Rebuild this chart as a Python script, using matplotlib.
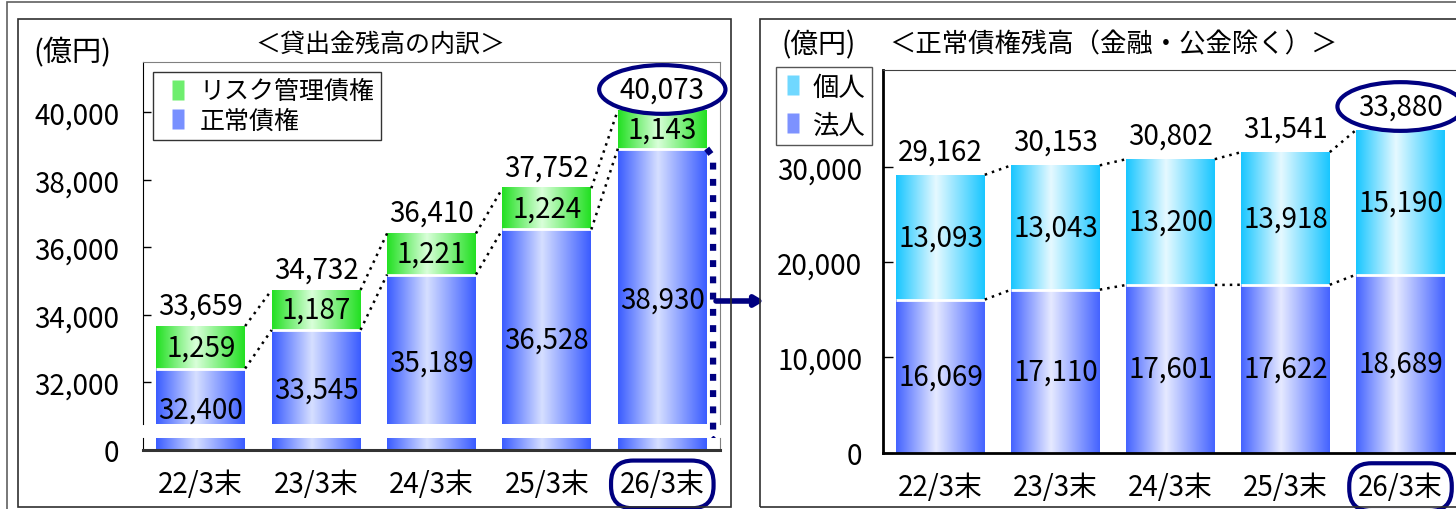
import numpy as np
import matplotlib
matplotlib.use('Agg')
import matplotlib.pyplot as plt
from matplotlib.colors import LinearSegmentedColormap
from matplotlib.lines import Line2D
from matplotlib.patches import Rectangle
from matplotlib.path import Path

plt.rcParams['font.family'] = ['Noto Sans CJK JP', 'DejaVu Sans']

categories = ['22/3末', '23/3末', '24/3末', '25/3末', '26/3末']

# left panel: 貸出金残高の内訳
normal_loans = [32400, 33545, 35189, 36528, 38930]   # 正常債権
risk_loans = [1259, 1187, 1221, 1224, 1143]          # リスク管理債権
loan_totals = [33659, 34732, 36410, 37752, 40073]
left_yticks = [32000, 34000, 36000, 38000, 40000]

# right panel: 正常債権残高(金融・公金除く)
corporate = [16069, 17110, 17601, 17622, 18689]      # 法人
individual = [13093, 13043, 13200, 13918, 15190]     # 個人
normal_totals = [29162, 30153, 30802, 31541, 33880]
right_yticks = [0, 10000, 20000, 30000]

W, H = 1456, 510
navy = '#000080'
FS = 20     # numbers / categories
JFS = 18    # japanese text


def fr(x0, y0, x1, y1):
    # pixel box -> figure fraction rect
    return [x0 / W, 1 - y1 / H, (x1 - x0) / W, (y1 - y0) / H]


def cmap(edge, center):
    return LinearSegmentedColormap.from_list('g', [(0, edge), (0.45, center), (1, edge)])


blue = cmap('#3a5cff', '#d6dfff')
green = cmap('#22e022', '#d9ffd9')
cyan = cmap('#18c6ff', '#e6f9ff')
blue2 = cmap('#4463ff', '#e6eaff')

grad = np.linspace(0, 1, 256)[None, :]
bw = 0.77
bar_marker = Path([(-0.3, -0.5), (0.3, -0.5), (0.3, 0.5), (-0.3, 0.5), (-0.3, -0.5)])


def grad_bar(ax, x, y0, y1, cm):
    ax.imshow(grad, cmap=cm, extent=(x - bw / 2, x + bw / 2, y0, y1),
              aspect='auto', interpolation='bilinear', zorder=2)


def handle(color, label):
    return Line2D([], [], ls='none', marker=bar_marker, ms=14, mfc=color, mec='none', label=label)


fig = plt.figure(figsize=(W / 100, H / 100), dpi=100)

# frames
for (x0, y0, x1, y1, c) in [(7, 2.5, 1475, 525, '#606060'), (18, 20, 731, 508, '#303030'),
                            (760, 20, 1470, 508, '#303030')]:
    fig.add_artist(Rectangle((x0 / W, 1 - y1 / H), (x1 - x0) / W, (y1 - y0) / H,
                             transform=fig.transFigure, fill=False, ec=c, lw=1.2))

# ---------------- left panel (broken axis) ----------------
ax_t = fig.add_axes(fr(143, 63, 720, 425))
ax_b = fig.add_axes(fr(143, 439, 720, 451))
top_lim = (30753, 41499)
upp = (top_lim[1] - top_lim[0]) / (425 - 63)
bot_lim = (0, 12 * upp)
zero_eq = top_lim[0] - 14 * upp - bot_lim[1]

x = np.arange(len(categories))
for i in range(len(x)):
    for ax in (ax_t, ax_b):
        grad_bar(ax, x[i], 0, normal_loans[i], blue)
    grad_bar(ax_t, x[i], normal_loans[i], normal_loans[i] + risk_loans[i], green)
ax_t.hlines(normal_loans, x - bw / 2, x + bw / 2, color='white', lw=2, zorder=3)

for i in range(len(x) - 1):
    for ys in (loan_totals, normal_loans):
        ax_t.plot([x[i] + bw / 2, x[i + 1] - bw / 2], [ys[i], ys[i + 1]], color='black',
                  ls=(0, (1, 2)), lw=1.8, zorder=3)

for i in range(len(x)):
    ax_t.annotate(f'{risk_loans[i]:,}', (x[i], normal_loans[i] + risk_loans[i] / 2),
                  ha='center', va='center', fontsize=FS, zorder=5)
    ax_t.annotate(f'{normal_loans[i]:,}', (x[i], (normal_loans[i] + zero_eq) / 2),
                  ha='center', va='center', fontsize=FS, zorder=5)
    t = ax_t.annotate(f'{loan_totals[i]:,}', (x[i], loan_totals[i]), xytext=(0, 4),
                      textcoords='offset points', ha='center', va='bottom', fontsize=FS,
                      zorder=5, annotation_clip=False)
    if i == len(x) - 1:
        t.set_bbox(dict(boxstyle='ellipse,pad=0.08', fc='white', ec=navy, lw=3))

# navy dotted line at the right of the last bar
xe = x[-1] + bw / 2
ax_t.plot([xe, xe + 0.055, xe + 0.055], [normal_loans[-1], normal_loans[-1] - 250, zero_eq + 200],
          color=navy, lw=4.5, ls=(0, (1.1, 1.5)), clip_on=False, zorder=4)
ax_t.plot([xe + 0.055], [zero_eq + 200], marker='D', ms=7, color=navy, clip_on=False, zorder=4)

ax_t.set_xlim(-0.5, 4.5)
ax_t.set_ylim(*top_lim)
ax_b.set_xlim(-0.5, 4.5)
ax_b.set_ylim(*bot_lim)
ax_t.set_yticks(left_yticks)
ax_t.set_yticklabels([f'{v:,}' for v in left_yticks])
ax_t.set_xticks([])
ax_b.set_yticks([0])
ax_b.set_xticks(x)
ax_b.set_xticklabels(categories)
ax_t.tick_params(axis='y', direction='in', length=6, width=1, pad=17, labelsize=FS)
ax_b.tick_params(axis='y', direction='in', length=0, pad=17, labelsize=FS)
ax_b.tick_params(axis='x', length=0, pad=14, labelsize=FS)
ax_t.spines['bottom'].set_visible(False)
ax_b.spines['top'].set_visible(False)
for ax in (ax_t, ax_b):
    ax.spines['left'].set_color('black')
    ax.spines['right'].set_color('#808080')
ax_t.spines['top'].set_color('#808080')
ax_b.spines['bottom'].set_color('#333333')
ax_b.spines['bottom'].set_linewidth(2.2)
ax_b.get_xticklabels()[-1].set_bbox(dict(boxstyle='round,pad=0.32,rounding_size=0.8',
                                         fc='white', ec=navy, lw=3))

ax_t.legend(handles=[handle('#6eee6e', 'リスク管理債権'), handle('#7890ff', '正常債権')],
            loc='upper left', bbox_to_anchor=(153 / W, 1 - 73 / H), bbox_transform=fig.transFigure,
            fancybox=False, edgecolor='#333333', framealpha=1, fontsize=JFS, handlelength=1.5,
            handletextpad=0.1, borderpad=0.25, labelspacing=0.15, borderaxespad=0)

fig.text(33 / W, 1 - 53 / H, '(億円)', fontsize=21, va='center', ha='left')
fig.text(380 / W, 1 - 45 / H, '＜貸出金残高の内訳＞', fontsize=JFS, va='center', ha='center')

# arrow between panels
ax_t.annotate('', xy=(764 / W, 1 - 302 / H), xytext=(716 / W, 1 - 302 / H),
              xycoords='figure fraction', textcoords='figure fraction',
              arrowprops=dict(arrowstyle='-|>,head_length=0.5,head_width=0.3', lw=4, color=navy,
                              shrinkA=0, shrinkB=0))

# ---------------- right panel ----------------
ax_r = fig.add_axes(fr(883, 70.7, 1458, 453.7))
for i in range(len(x)):
    grad_bar(ax_r, x[i], 0, corporate[i], blue2)
    grad_bar(ax_r, x[i], corporate[i], corporate[i] + individual[i], cyan)
ax_r.hlines(corporate, x - bw / 2, x + bw / 2, color='white', lw=2, zorder=3)
stack_top = [c + p for c, p in zip(corporate, individual)]
for i in range(len(x) - 1):
    for ys in (stack_top, corporate):
        ax_r.plot([x[i] + bw / 2, x[i + 1] - bw / 2], [ys[i], ys[i + 1]], color='black',
                  ls=(0, (1, 2)), lw=1.8, zorder=3)
for i in range(len(x)):
    ax_r.annotate(f'{individual[i]:,}', (x[i], corporate[i] + individual[i] / 2),
                  ha='center', va='center', fontsize=FS, zorder=5)
    ax_r.annotate(f'{corporate[i]:,}', (x[i], corporate[i] / 2),
                  ha='center', va='center', fontsize=FS, zorder=5)
    t = ax_r.annotate(f'{normal_totals[i]:,}', (x[i], stack_top[i]), xytext=(0, 6),
                      textcoords='offset points', ha='center', va='bottom', fontsize=FS,
                      zorder=5, annotation_clip=False)
    if i == len(x) - 1:
        t.set_bbox(dict(boxstyle='ellipse,pad=0.08', fc='white', ec=navy, lw=3))

ax_r.set_xlim(-0.5, 4.5)
ax_r.set_ylim(0, 40190)
ax_r.set_yticks(right_yticks)
ax_r.set_yticklabels([f'{v:,}' for v in right_yticks])
ax_r.set_xticks(x)
ax_r.set_xticklabels(categories)
ax_r.tick_params(axis='y', direction='in', length=7, width=1, pad=15, labelsize=FS)
ax_r.tick_params(axis='x', length=0, pad=14, labelsize=FS)
ax_r.spines['right'].set_visible(False)
ax_r.spines['top'].set_color('#404040')
for s in ('left', 'bottom'):
    ax_r.spines[s].set_color('black')
    ax_r.spines[s].set_linewidth(2)
ax_r.get_xticklabels()[-1].set_bbox(dict(boxstyle='round,pad=0.32,rounding_size=0.8',
                                         fc='white', ec=navy, lw=3))

ax_r.legend(handles=[handle('#70d8ff', '個人'), handle('#7d92ff', '法人')],
            loc='upper left', bbox_to_anchor=(776 / W, 1 - 68 / H), bbox_transform=fig.transFigure,
            fancybox=False, edgecolor='#555555', framealpha=1, fontsize=19, handlelength=0.8,
            handletextpad=0.35, borderpad=0.25, labelspacing=0.42, borderaxespad=0)

fig.text(782 / W, 1 - 45 / H, '(億円)', fontsize=20, va='center', ha='left')
fig.text(889 / W, 1 - 45 / H, '＜正常債権残高（金融・公金除く）＞', fontsize=19, va='center', ha='left')

fig.savefig('out.png', dpi=100)
